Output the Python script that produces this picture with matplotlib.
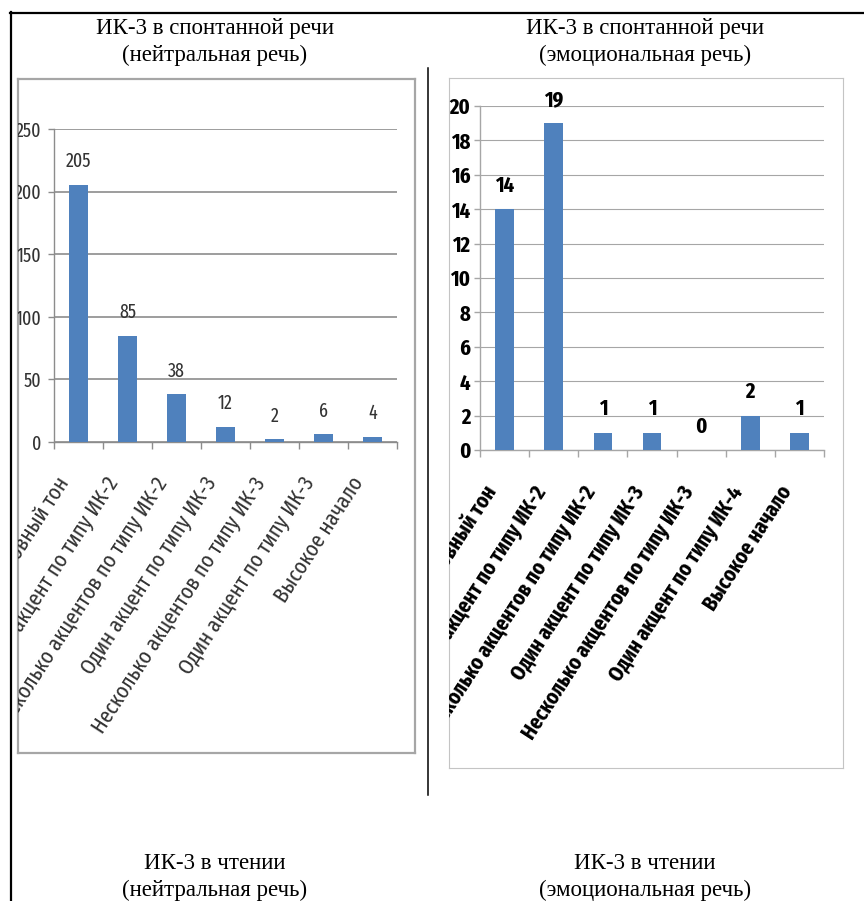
import numpy as np
import matplotlib
matplotlib.use("Agg")
import matplotlib.pyplot as plt
from matplotlib import font_manager as fm
from matplotlib.transforms import blended_transform_factory, offset_copy
from matplotlib.lines import Line2D

# ---------------- data ----------------
categories_neutral = [
    "Ровный тон",
    "Один акцент по типу ИК-2",
    "Несколько акцентов по типу ИК-2",
    "Один акцент по типу ИК-3",
    "Несколько акцентов по типу ИК-3",
    "Один акцент по типу ИК-3",
    "Высокое начало",
]
categories_emotional = [
    "Ровный тон",
    "Один акцент по типу ИК-2",
    "Несколько акцентов по типу ИК-2",
    "Один акцент по типу ИК-3",
    "Несколько акцентов по типу ИК-3",
    "Один акцент по типу ИК-4",
    "Высокое начало",
]
values_neutral = [205, 85, 38, 12, 2, 6, 4]
values_emotional = [14, 19, 1, 1, 0, 2, 1]
yticks_neutral = [0, 50, 100, 150, 200, 250]
yticks_emotional = [0, 2, 4, 6, 8, 10, 12, 14, 16, 18, 20]
title_top_left = "ИК-3 в спонтанной речи\n(нейтральная речь)"
title_top_right = "ИК-3 в спонтанной речи\n(эмоциональная речь)"
title_bottom_left = "ИК-3 в чтении\n(нейтральная речь)"
title_bottom_right = "ИК-3 в чтении\n(эмоциональная речь)"

# ---------------- fonts ----------------
names = {f.name for f in fm.fontManager.ttflist}
COND_FAMILY = [n for n in ["Fira Sans Extra Condensed", "Sofia Sans Extra Condensed",
                           "PT Sans Narrow", "Roboto Condensed"] if n in names] + ["DejaVu Sans"]
SERIF = ["Liberation Serif", "DejaVu Serif"]

W, H = 864, 901
fig = plt.figure(figsize=(W / 100, H / 100), dpi=100)
fig.patch.set_facecolor("white")


def fx(px):
    return px / W


def fy(py):
    return 1 - py / H


# outer border and divider
fig.add_artist(Line2D([fx(10), fx(864)], [fy(12.5), fy(12.5)], color="black", lw=1.6))
fig.add_artist(Line2D([fx(10.5), fx(10.5)], [fy(12), fy(901)], color="black", lw=1.6))
fig.add_artist(Line2D([fx(428), fx(428)], [fy(68), fy(795)], color="black", lw=1.1))

# titles
for txt, x, y in [(title_top_left, 215, 42), (title_top_right, 645, 42),
                  (title_bottom_left, 215, 877), (title_bottom_right, 645, 877)]:
    fig.text(fx(x), fy(y), txt, ha="center", va="center", family=SERIF,
             fontsize=16.5, linespacing=1.32, color="black")


def make_chart(frame_px, plot_px, cats, vals, yticks, bold, txtcolor, gridcolor,
               framecolor, framelw, gridlw, fs_tick, fs_cat, fs_data, cat_off, ypad):
    fl, ft, fr, fb = frame_px
    frame = fig.add_axes([fx(fl), fy(fb), fx(fr - fl), (fb - ft) / H])
    frame.set_xticks([])
    frame.set_yticks([])
    frame.set_facecolor("white")
    for s in frame.spines.values():
        s.set_color(framecolor)
        s.set_linewidth(framelw)

    pl, pt, pr, pb = plot_px
    ax = fig.add_axes([fx(pl), fy(pb), fx(pr - pl), (pb - pt) / H])
    ax.patch.set_visible(False)
    x = np.arange(len(vals))
    ax.bar(x, vals, width=0.38, color="#4f81bd", zorder=3)
    ax.set_xlim(-0.5, len(vals) - 0.5)
    ax.set_ylim(yticks[0], yticks[-1])
    ax.set_yticks(yticks)
    ax.set_xticks(np.arange(-0.5, len(vals), 1.0))
    ax.set_xticklabels([])
    weight = "bold" if bold else "normal"
    ax.set_yticklabels([str(t) for t in yticks])
    for lbl in ax.get_yticklabels():
        lbl.set_fontsize(fs_tick)
        lbl.set_fontweight(weight)
        lbl.set_color(txtcolor)
        lbl.set_fontfamily(COND_FAMILY)
        lbl.set_clip_path(frame.patch)
        lbl.set_clip_on(True)
    ax.tick_params(axis="y", direction="out", length=4, width=1, color=gridcolor, pad=ypad)
    ax.tick_params(axis="x", direction="out", length=5, width=1, color=gridcolor)
    ax.grid(axis="y", color=gridcolor, lw=gridlw, zorder=0)
    for s in ["top", "right"]:
        ax.spines[s].set_visible(False)
    for s in ["left", "bottom"]:
        ax.spines[s].set_color(gridcolor)
        ax.spines[s].set_linewidth(1.0)

    # data labels
    for xi, v in zip(x, vals):
        ax.annotate(str(v), (xi, v), xytext=(0, 17), textcoords="offset points",
                    ha="center", va="center", fontsize=fs_data, fontweight=weight,
                    color=txtcolor, family=COND_FAMILY)

    # category labels (clipped by chart frame)
    base = blended_transform_factory(ax.transData, ax.transAxes)
    tr = offset_copy(base, fig=fig, x=cat_off[0], y=cat_off[1], units="dots")
    for xi, c in zip(x, cats):
        frame.text(xi + 0.5, 0, c, transform=tr, rotation=57, rotation_mode="anchor",
                   ha="right", va="center", fontsize=fs_cat, fontweight=weight,
                   color=txtcolor, clip_on=True, family=COND_FAMILY)
    return ax


make_chart((18, 79, 415, 753), (54, 129, 397, 442), categories_neutral, values_neutral,
           yticks_neutral, False, "#333333", "#8c8c8c", "#a6a6a6", 1.6, 1.2,
           14, 16.5, 14, (-38, -37), 5)
make_chart((449, 78, 843, 768), (480, 106, 824, 450), categories_emotional, values_emotional,
           yticks_emotional, True, "black", "#a6a6a6", "#c4c4c4", 0.8, 0.8,
           16, 16, 16, (-37, -38), 3)

fig.savefig("out.png", dpi=100, facecolor="white")
